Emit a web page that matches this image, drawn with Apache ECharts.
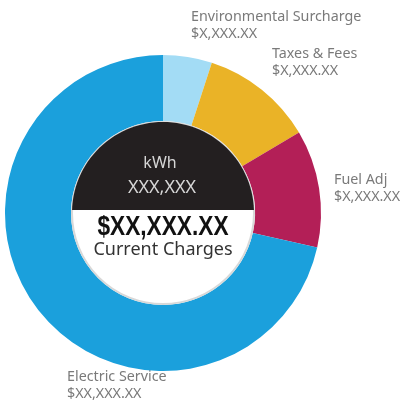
<!DOCTYPE html>
<html>
<head>
<meta charset="utf-8">
<script src="https://cdn.jsdelivr.net/npm/echarts@6/dist/echarts.min.js"></script>
<style>
  html, body { margin: 0; padding: 0; background: #fff; }
  #main { width: 404px; height: 400px; }
</style>
</head>
<body>
<div id="main"></div>
<script>
// slice data, clockwise from 12 o'clock
const categories = ["Environmental Surcharge", "Taxes & Fees", "Fuel Adj", "Electric Service"];
const shares = [5, 11.5, 12, 71.5];
const amounts = ["$X,XXX.XX", "$X,XXX.XX", "$X,XXX.XX", "$XX,XXX.XX"];
const colors = ["#a3dcf5", "#eab327", "#b31f57", "#1ba0dc"];

const usage = "XXX,XXX";
const total = "$XX,XXX.XX";

// where each outside label sits (left x, first line y)
const labelPos = [[191, 18], [272, 55], [334, 181], [67, 378]];

const cx = 163, cy = 213, rIn = 92, rOut = 158;

const chart = echarts.init(document.getElementById("main"));

const labels = [];
categories.forEach((name, i) => {
  labels.push({
    type: "text",
    x: labelPos[i][0], y: labelPos[i][1] - 9,
    style: { text: name + "\n" + amounts[i], fill: "#7a7a7a", font: "14.3px 'Noto Sans'", lineHeight: 16.5 }
  });
});

// black top cap of the centre disc (chord just above centre)
const capR = rIn - 1;
const a0 = Math.asin(3 / capR);
const capPts = [];
for (let k = 0; k <= 60; k++) {
  const a = Math.PI - a0 - (Math.PI - 2 * a0) * k / 60;
  capPts.push([cx + capR * Math.cos(a), cy - capR * Math.sin(a)]);
}

const option = {
  animation: false,
  series: [
    {
      type: "pie",
      center: [cx, cy],
      radius: [rIn, rOut],
      startAngle: 90,
      clockwise: true,
      label: { show: false },
      labelLine: { show: false },
      emphasis: { disabled: true },
      silent: true,
      data: categories.map((c, i) => ({ name: c, value: shares[i], itemStyle: { color: colors[i] } }))
    }
  ],
  graphic: labels.concat([
    {
      type: "circle", shape: { cx: cx, cy: cy, r: rIn - 1 },
      style: { fill: "#fff", stroke: "#d8d8d8", lineWidth: 2 }, z: 10
    },
    {
      type: "polygon", shape: { points: capPts }, style: { fill: "#231f20" }, z: 11
    },
    {
      type: "text", x: cx - 3, y: 163, z: 12,
      style: { text: "kWh", fill: "#d6d6d6", font: "16px 'Noto Sans'", align: "center", verticalAlign: "middle" }
    },
    {
      type: "text", x: cx - 1, y: 188, z: 12,
      style: { text: usage, fill: "#d6d6d6", font: "18px 'Noto Sans'", align: "center", verticalAlign: "middle" }
    },
    {
      type: "text", x: cx, y: 228, z: 12, scaleX: 0.84,
      style: { text: total, fill: "#111", font: "bold 27px 'Liberation Sans'", align: "center", verticalAlign: "middle" }
    },
    {
      type: "text", x: cx, y: 250, z: 12,
      style: { text: "Current Charges", fill: "#333", font: "18px 'Noto Sans'", align: "center", verticalAlign: "middle" }
    }
  ])
};

chart.setOption(option);
</script>
</body>
</html>
